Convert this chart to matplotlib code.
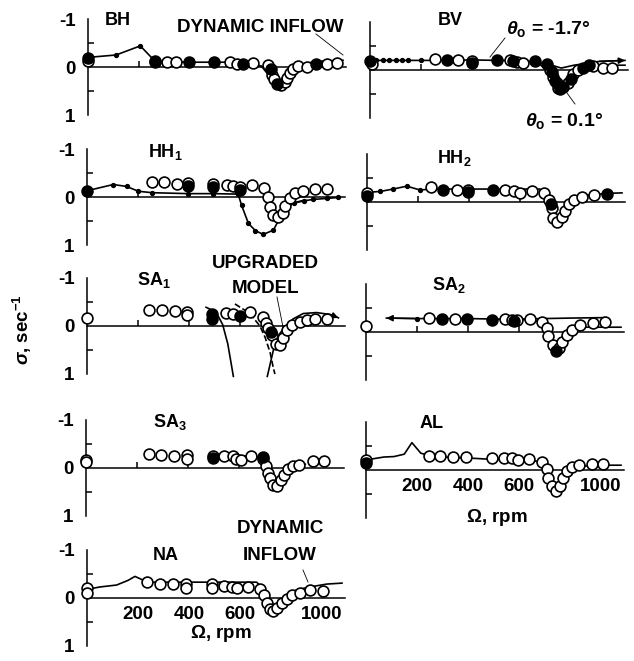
import matplotlib.pyplot as plt
import matplotlib.transforms as mtransforms
from matplotlib.lines import Line2D

plt.rcParams['font.family'] = ['Liberation Sans', 'DejaVu Sans']
plt.rcParams['font.weight'] = 'bold'
plt.rcParams['mathtext.fontset'] = 'custom'
plt.rcParams['mathtext.rm'] = 'Liberation Sans:bold'
plt.rcParams['mathtext.bf'] = 'Liberation Sans:bold'
plt.rcParams['mathtext.it'] = 'Liberation Sans:italic'

# ---- data: rotor speed (rpm) vs. damping sigma (1/sec) ----
# BH
bh_th_rpm = [0, 110, 205, 263, 400, 500, 600, 680, 720, 745, 770, 800, 850, 900, 1000]
bh_th_sig = [-0.2, -0.25, -0.44, -0.12, -0.1, -0.1, -0.1, -0.02, 0.25, 0.38, 0.25, 0.03, -0.07, -0.12, -0.14]
bh_open_rpm = [0, 263, 308, 345, 557, 583, 648, 707, 722, 729, 755, 772, 781, 792, 805, 824, 857, 936, 975]
bh_open_sig = [-0.13, -0.11, -0.11, -0.1, -0.1, -0.07, -0.08, -0.04, 0.16, 0.26, 0.38, 0.32, 0.23, 0.12, 0.05, -0.02, 0.0, -0.06, -0.09]
bh_fill_rpm = [0, 263, 397, 494, 609, 717, 740, 896]
bh_fill_sig = [-0.18, -0.12, -0.1, -0.1, -0.06, 0.05, 0.35, -0.06]

# BV, two collective pitch settings
bv_th1_rpm = [0, 25, 50, 75, 100, 125, 150, 200, 300, 400, 500, 600, 700, 750, 800, 900, 1000]
bv_th1_sig = [-0.2, -0.2, -0.2, -0.2, -0.2, -0.2, -0.2, -0.2, -0.2, -0.21, -0.2, -0.19, -0.12, -0.04, -0.1, -0.18, -0.2]
bv_th2_rpm = [600, 660, 700, 720, 740, 760, 780, 800, 830, 870, 920, 1000]
bv_th2_sig = [-0.2, -0.15, 0.05, 0.25, 0.38, 0.33, 0.2, 0.08, -0.02, -0.08, -0.1, -0.1]
bv_open_rpm = [7, 255, 346, 399, 549, 575, 601, 706, 719, 739, 778, 797, 817, 876, 915, 948]
bv_open_sig = [-0.12, -0.22, -0.2, -0.19, -0.2, -0.17, -0.15, 0.01, 0.15, 0.38, 0.28, 0.08, 0.01, -0.09, -0.05, -0.05]
bv_fill_rpm = [0, 301, 399, 497, 560, 647, 693, 712, 725, 732, 745, 758, 790, 837, 860]
bv_fill_sig = [-0.18, -0.2, -0.15, -0.2, -0.18, -0.18, -0.12, 0.05, 0.22, 0.28, 0.4, 0.35, 0.18, -0.05, -0.1]

# HH1
hh1_th_rpm = [0, 103, 155, 201, 254, 397, 495, 593, 606, 633, 660, 691, 731, 757, 784, 810, 850, 888, 940, 986]
hh1_th_sig = [-0.13, -0.26, -0.22, -0.12, -0.09, -0.07, -0.07, -0.06, 0.17, 0.55, 0.7, 0.78, 0.69, 0.43, 0.22, 0.13, 0.08, 0.05, 0.03, 0.01]
hh1_th2_rpm = [700, 720, 745, 765, 785, 810, 850]
hh1_th2_sig = [0.0, 0.2, 0.4, 0.35, 0.2, 0.12, 0.07]
hh1_open_rpm = [254, 302, 352, 397, 495, 548, 574, 600, 646, 694, 711, 718, 731, 750, 767, 776, 796, 816, 849, 895, 940]
hh1_open_sig = [-0.31, -0.31, -0.27, -0.3, -0.28, -0.24, -0.23, -0.2, -0.25, -0.18, 0.0, 0.2, 0.38, 0.42, 0.33, 0.18, 0.03, -0.08, -0.12, -0.16, -0.16]
hh1_fill_rpm = [0, 397, 495, 600]
hh1_fill_sig = [-0.13, -0.23, -0.2, -0.14]

# HH2
hh2_th_rpm = [0, 52, 103, 156, 208, 254, 300, 400, 500, 600, 678, 704, 731, 744, 763, 784, 810, 863, 941, 1000]
hh2_th_sig = [-0.2, -0.22, -0.27, -0.33, -0.25, -0.27, -0.27, -0.27, -0.27, -0.27, -0.27, -0.08, 0.28, 0.41, 0.37, 0.17, -0.07, -0.14, -0.18, -0.19]
hh2_open_rpm = [0, 250, 352, 398, 542, 575, 601, 647, 695, 712, 724, 731, 747, 765, 778, 791, 810, 843, 889]
hh2_open_sig = [-0.18, -0.32, -0.26, -0.24, -0.25, -0.22, -0.18, -0.23, -0.18, -0.05, 0.13, 0.33, 0.41, 0.32, 0.19, 0.05, -0.05, -0.1, -0.15]
hh2_fill_rpm = [0, 300, 398, 496, 720, 941]
hh2_fill_sig = [-0.12, -0.26, -0.2, -0.25, 0.05, -0.16]

# SA1, with the divergent branches of the two models
sa1_a_rpm = [467, 506, 532, 552, 565, 574]
sa1_a_sig = [-0.39, -0.29, -0.03, 0.37, 0.77, 1.05]
sa1_b_rpm = [580, 639, 678, 698, 718, 731, 737]
sa1_b_sig = [-0.46, -0.26, 0.0, 0.23, 0.55, 0.88, 1.0]
sa1_c_rpm = [707, 731, 757, 783, 809, 848, 900, 953, 986]
sa1_c_sig = [1.05, 0.5, 0.15, -0.02, -0.15, -0.26, -0.28, -0.24, -0.17]
sa1_open_rpm = [0, 244, 293, 345, 391, 391, 545, 574, 639, 689, 702, 711, 724, 741, 757, 770, 783, 803, 835, 861, 894, 940]
sa1_open_sig = [-0.17, -0.33, -0.33, -0.31, -0.3, -0.22, -0.27, -0.25, -0.3, -0.18, -0.06, 0.05, 0.18, 0.38, 0.4, 0.25, 0.08, -0.03, -0.08, -0.12, -0.15, -0.15]
sa1_fill_rpm = [489, 489, 600, 720]
sa1_fill_sig = [-0.25, -0.15, -0.2, 0.12]

# SA2
sa2_th1_rpm = [80, 200, 300, 400, 500, 600, 700, 800, 940]
sa2_th1_sig = [-0.29, -0.28, -0.28, -0.28, -0.27, -0.27, -0.28, -0.29, -0.3]
sa2_th2_rpm = [600, 680, 705, 725, 745, 765, 785, 810, 850, 900, 950, 1000]
sa2_th2_sig = [-0.27, -0.22, -0.05, 0.2, 0.35, 0.3, 0.1, -0.05, -0.1, -0.1, -0.1, -0.1]
sa2_open_rpm = [0, 248, 349, 545, 571, 591, 643, 689, 708, 715, 735, 755, 767, 787, 806, 839, 891, 937]
sa2_open_sig = [-0.12, -0.29, -0.28, -0.27, -0.26, -0.24, -0.28, -0.2, -0.08, 0.08, 0.28, 0.33, 0.2, 0.06, -0.05, -0.15, -0.19, -0.2]
sa2_fill_rpm = [297, 395, 493, 580, 745]
sa2_fill_sig = [-0.28, -0.27, -0.25, -0.22, 0.4]

# SA3
sa3_th_rpm = [560, 640, 690, 705, 720, 740, 760, 780, 800, 830, 860]
sa3_th_sig = [-0.25, -0.25, -0.2, -0.05, 0.15, 0.33, 0.3, 0.12, 0.0, -0.07, -0.08]
sa3_open_rpm = [0, 0, 248, 294, 346, 396, 396, 497, 542, 575, 588, 608, 647, 693, 706, 712, 723, 732, 749, 765, 778, 791, 811, 837, 889, 935]
sa3_open_sig = [-0.16, -0.12, -0.3, -0.28, -0.26, -0.28, -0.19, -0.26, -0.26, -0.24, -0.19, -0.16, -0.24, -0.19, -0.04, 0.1, 0.21, 0.35, 0.37, 0.26, 0.15, 0.02, -0.04, -0.06, -0.15, -0.15]
sa3_fill_rpm = [497, 693]
sa3_fill_sig = [-0.21, -0.22]

# AL
al_th_rpm = [0, 70, 110, 150, 180, 215, 250, 300, 400, 500, 600, 680, 710, 730, 750, 770, 800, 850, 900, 1000]
al_th_sig = [-0.21, -0.27, -0.28, -0.33, -0.57, -0.35, -0.3, -0.27, -0.25, -0.22, -0.2, -0.18, 0.0, 0.25, 0.35, 0.2, 0.0, -0.08, -0.1, -0.1]
al_open_rpm = [0, 248, 290, 342, 392, 493, 542, 571, 597, 640, 689, 708, 715, 728, 747, 760, 773, 789, 806, 836, 885, 930]
al_open_sig = [-0.2, -0.3, -0.29, -0.28, -0.27, -0.25, -0.25, -0.24, -0.2, -0.22, -0.17, -0.03, 0.17, 0.33, 0.43, 0.33, 0.17, 0.03, -0.06, -0.1, -0.13, -0.13]
al_fill_rpm = [0]
al_fill_sig = [-0.14]

# NA
na_th_rpm = [0, 51, 116, 162, 188, 221, 260, 417, 550, 665, 691, 704, 717, 736, 756, 783, 822, 874, 940, 1000]
na_th_sig = [-0.18, -0.23, -0.27, -0.37, -0.45, -0.37, -0.33, -0.33, -0.33, -0.33, -0.2, -0.03, 0.1, 0.15, 0.07, -0.07, -0.17, -0.23, -0.29, -0.31]
na_open_rpm = [0, 0, 236, 285, 336, 388, 388, 489, 489, 537, 567, 587, 633, 678, 694, 704, 717, 731, 744, 763, 783, 803, 836, 875, 927]
na_open_sig = [-0.2, -0.11, -0.33, -0.3, -0.3, -0.29, -0.2, -0.29, -0.2, -0.25, -0.22, -0.2, -0.23, -0.18, -0.07, 0.1, 0.22, 0.27, 0.2, 0.1, 0.02, -0.07, -0.1, -0.17, -0.15]

W, H = 634, 661
PX = 0.255   # pixels per rpm
UNIT = 48    # pixels per 1/sec
LABEL_FS = 13.5
fig = plt.figure(figsize=(W / 100, H / 100), dpi=100)


def make_axes(x0, y0, ylabels=True, xlabels=False):
    xmin, xmax = -30, 1060
    ymin, ymax = -1.25, 1.1
    left = (x0 + xmin * PX) / W
    bottom = 1 - (y0 + ymax * UNIT) / H
    ax = fig.add_axes([left, bottom, (xmax - xmin) * PX / W, (ymax - ymin) * UNIT / H])
    ax.set_xlim(xmin, xmax)
    ax.set_ylim(ymax, ymin)
    ax.patch.set_visible(False)
    for s in ['top', 'right']:
        ax.spines[s].set_visible(False)
    ax.spines['left'].set_position(('data', 0))
    ax.spines['left'].set_bounds(-1, 1)
    ax.spines['bottom'].set_position(('data', 0))
    ax.spines['bottom'].set_bounds(0, 1010)
    for s in ['left', 'bottom']:
        ax.spines[s].set_linewidth(1.1)

    ax.set_yticks([-1, 0, 1])
    ax.set_yticklabels(['-1', '0', '1'] if ylabels else [])
    ax.set_yticks([-1, -0.5, 0.5, 1], minor=True)
    ax.tick_params(axis='y', which='major', length=0, pad=9, labelsize=LABEL_FS)
    ax.tick_params(axis='y', which='minor', direction='in', length=4, width=1.1)

    if xlabels:
        ax.set_xticks([200, 400, 600, 1000])
        ax.set_xticklabels(['200', '400', '600', '1000'])
        # the last label sits flush against the end of the axis line
        last = ax.get_xticklabels()[-1]
        last.set_ha('right')
        last.set_transform(last.get_transform() +
                           mtransforms.ScaledTranslation(10 / 100, 0, fig.dpi_scale_trans))
    else:
        ax.set_xticks([])
    ax.set_xticks([200, 400, 600], minor=True)
    ax.tick_params(axis='x', which='major', length=0, pad=6, labelsize=LABEL_FS)
    ax.tick_params(axis='x', which='minor', direction='in', length=4, width=1.1)
    return ax


def theory(ax, rpm, sig, dots=None, ls='-'):
    ax.plot(rpm, sig, ls, color='black', lw=1.2, marker='o' if dots else None,
            ms=2.8, markevery=dots, clip_on=False, zorder=2)


def measured(ax, open_rpm, open_sig, fill_rpm, fill_sig):
    ax.plot(open_rpm, open_sig, 'o', mfc='white', mec='black', mew=1.2, ms=7.8,
            clip_on=False, zorder=3)
    ax.plot(fill_rpm, fill_sig, 'o', mfc='black', mec='black', mew=1.2, ms=7.8,
            clip_on=False, zorder=4)


def arrow_end(ax, rpm, sig, i, j):
    ax.annotate('', xy=(rpm[i], sig[i]), xytext=(rpm[j], sig[j]),
                arrowprops=dict(arrowstyle='-|>', color='black', lw=1.1,
                                mutation_scale=9, shrinkA=0, shrinkB=0))


def title(ax, rpm, sig, s):
    ax.text(rpm, sig, s, fontsize=13, fontweight='bold', ha='left', va='baseline')


# left column
ax = make_axes(88, 67)
theory(ax, bh_th_rpm, bh_th_sig, dots=[0, 1, 2, 3])
measured(ax, bh_open_rpm, bh_open_sig, bh_fill_rpm, bh_fill_sig)
title(ax, 66, -0.875, 'BH')

ax = make_axes(87, 197)
theory(ax, hh1_th_rpm, hh1_th_sig, dots=list(range(len(hh1_th_rpm))))
theory(ax, hh1_th2_rpm, hh1_th2_sig)
measured(ax, hh1_open_rpm, hh1_open_sig, hh1_fill_rpm, hh1_fill_sig)
title(ax, 238, -0.84, r'HH$_\mathbf{1}$')

ax = make_axes(87, 326)
theory(ax, sa1_a_rpm, sa1_a_sig)
theory(ax, sa1_b_rpm, sa1_b_sig, ls='--')
theory(ax, sa1_c_rpm, sa1_c_sig)
arrow_end(ax, sa1_c_rpm, sa1_c_sig, -1, -2)
measured(ax, sa1_open_rpm, sa1_open_sig, sa1_fill_rpm, sa1_fill_sig)
title(ax, 198, -0.85, r'SA$_\mathbf{1}$')

ax = make_axes(86, 468)
theory(ax, sa3_th_rpm, sa3_th_sig)
measured(ax, sa3_open_rpm, sa3_open_sig, sa3_fill_rpm, sa3_fill_sig)
title(ax, 261, -0.86, r'SA$_\mathbf{3}$')

ax = make_axes(87, 598, xlabels=True)
theory(ax, na_th_rpm, na_th_sig)
measured(ax, na_open_rpm, na_open_sig, [], [])
title(ax, 257, -0.79, 'NA')

# right column
ax = make_axes(370, 70, ylabels=False)
theory(ax, bv_th1_rpm, bv_th1_sig, dots=list(range(8)))
theory(ax, bv_th2_rpm, bv_th2_sig)
arrow_end(ax, bv_th1_rpm, bv_th1_sig, -1, -2)
measured(ax, bv_open_rpm, bv_open_sig, bv_fill_rpm, bv_fill_sig)
title(ax, 265, -0.94, 'BV')

ax = make_axes(367, 202, ylabels=False)
theory(ax, hh2_th_rpm, hh2_th_sig, dots=[0, 1, 2, 3, 4, 5])
measured(ax, hh2_open_rpm, hh2_open_sig, hh2_fill_rpm, hh2_fill_sig)
title(ax, 273, -0.81, r'HH$_\mathbf{2}$')

ax = make_axes(366, 332, ylabels=False)
theory(ax, sa2_th1_rpm, sa2_th1_sig, dots=[1])
theory(ax, sa2_th2_rpm, sa2_th2_sig)
arrow_end(ax, sa2_th1_rpm, sa2_th1_sig, 0, 1)
measured(ax, sa2_open_rpm, sa2_open_sig, sa2_fill_rpm, sa2_fill_sig)
title(ax, 257, -0.875, r'SA$_\mathbf{2}$')

ax = make_axes(366, 470, ylabels=False, xlabels=True)
theory(ax, al_th_rpm, al_th_sig)
measured(ax, al_open_rpm, al_open_sig, al_fill_rpm, al_fill_sig)
title(ax, 210, -0.87, 'AL')


# figure-level labels (pixel positions)
def ftext(x, y, s, **kw):
    kw.setdefault('fontsize', LABEL_FS)
    kw.setdefault('fontweight', 'bold')
    fig.text(x / W, 1 - y / H, s, **kw)


def fline(x1, y1, x2, y2):
    fig.add_artist(Line2D([x1 / W, x2 / W], [1 - y1 / H, 1 - y2 / H],
                          transform=fig.transFigure, color='black', lw=0.6))


ftext(177, 32, 'DYNAMIC INFLOW', ha='left', va='baseline')
fline(316, 34, 343, 55)
ftext(506, 34, r'$\theta_\mathbf{o}$ = -1.7°', ha='left', va='baseline', fontsize=14)
fline(505, 38, 490, 57)
ftext(525, 126, r'$\theta_\mathbf{o}$ = 0.1°', ha='left', va='baseline', fontsize=14)
fline(575, 104, 567, 93)
ftext(265, 268, 'UPGRADED', ha='center', va='baseline')
ftext(266, 293, 'MODEL', ha='center', va='baseline')
fline(277, 297, 283, 327)
ftext(280, 533, 'DYNAMIC', ha='center', va='baseline')
ftext(280, 560, 'INFLOW', ha='center', va='baseline')
fline(303, 570, 308, 582)
ftext(221, 638, r'$\Omega$, rpm', ha='center', va='baseline')
ftext(497, 522, r'$\Omega$, rpm', ha='center', va='baseline')
ftext(22, 330, r'$\sigma$, sec$^{\mathbf{-1}}$', ha='center', va='center',
      rotation=90)

fig.savefig('out.png', dpi=100)
